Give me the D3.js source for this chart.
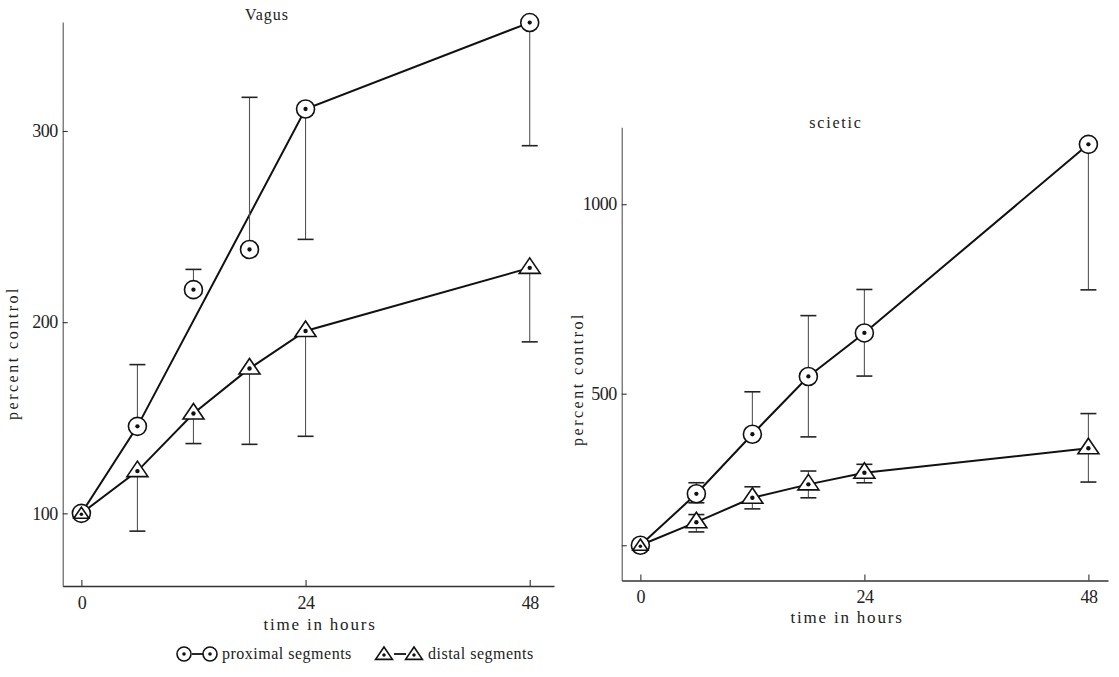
<!DOCTYPE html>
<html><head><meta charset="utf-8">
<script src="https://cdn.jsdelivr.net/npm/d3@7"></script>
<style>
body{margin:0;background:#fff;}
svg{display:block;}
text{font-family:"Liberation Serif","DejaVu Serif",serif;fill:#222;}
</style></head><body>
<svg id="chart" width="1119" height="677"></svg>
<script>
// ---- data ----
const hours = [0, 6, 12, 18, 24, 48];
const xTicks = [0, 24, 48];

const vagusTicks = [100, 200, 300];
const vagusTickLabels = ["100", "200", "300"];
const vagusProximal = [100, 145.5, 217, 238, 311.5, 356.7];
const vagusProximalLinked = [0, 6, 24, 48];
const vagusProximalHi = [null, 177.8, 227.6, 317.6, null, null];
const vagusProximalLo = [null, null, null, null, 243.3, 292.3];
const vagusDistal = [100, 122.1, 152.2, 175.8, 195.4, 228.4];
const vagusDistalHi = [null, null, null, null, null, null];
const vagusDistalLo = [null, 90.7, 136.5, 136.1, 140.3, 189.7];

const scieticTicks = [100, 500, 1000];
const scieticTickLabels = ["", "500", "1000"];
const scieticProximal = [100, 235.8, 393, 545.5, 660.3, 1158];
const scieticProximalLinked = [0, 6, 12, 18, 24, 48];
const scieticProximalHi = [null, 265, 505, 706, 775, null];
const scieticProximalLo = [null, 212, null, 386, 546.5, 774];
const scieticDistal = [100, 160.9, 225.2, 260.7, 291.4, 356];
const scieticDistalHi = [null, 181, 254.3, 295.9, 313.6, 447.5];
const scieticDistalLo = [null, 135.2, 196, 225.2, 264.9, 266.8];

const legendLabels = ["proximal segments", "distal segments"];

// ---- drawing ----
const svg = d3.select("#chart");
const FONT = '"Liberation Serif","DejaVu Serif",serif';

function circleMarker(g, cx, cy, r) {
  g.append("circle").attr("cx", cx).attr("cy", cy).attr("r", r)
    .attr("fill", "#fff").attr("stroke", "#111").attr("stroke-width", 1.6);
  g.append("circle").attr("cx", cx).attr("cy", cy).attr("r", Math.max(r * 0.24, 1.8)).attr("fill", "#111");
}
function triMarker(g, cx, cy, s) {
  const p = d3.path();
  p.moveTo(cx, cy - 10 * s);
  p.lineTo(cx + 10.5 * s, cy + 5.5 * s);
  p.lineTo(cx - 10.5 * s, cy + 5.5 * s);
  p.closePath();
  g.append("path").attr("d", p.toString()).attr("fill", "#fff")
    .attr("stroke", "#111").attr("stroke-width", 1.6).attr("stroke-linejoin", "miter");
  g.append("circle").attr("cx", cx).attr("cy", cy).attr("r", 2.2 * Math.max(s, 0.8)).attr("fill", "#111");
}

function panel(o) {
  const g = svg.append("g");
  const x = o.x, y = o.y;
  // axes
  const ay = d3.axisLeft(y).tickValues(o.yTicks).tickFormat((d, i) => o.yLabels[i])
    .tickSizeInner(-5).tickSizeOuter(0).tickPadding(5);
  const gy = g.append("g").attr("transform", `translate(${x.range()[0]},0)`).call(ay);
  const ax = d3.axisBottom(x).tickValues(xTicks).tickSizeInner(-6).tickSizeOuter(0).tickPadding(10);
  const gx = g.append("g").attr("transform", `translate(0,${y.range()[0]})`).call(ax);
  [gy, gx].forEach(a => {
    a.attr("font-family", FONT).attr("font-size", 18);
    a.selectAll("text").attr("fill", "#222").attr("letter-spacing", -0.5);
    a.selectAll("line").attr("stroke", "#333").attr("stroke-width", 1.1);
  });
  gy.select(".domain").attr("stroke", "#555").attr("stroke-width", 1.1);
  gx.select(".domain").attr("stroke", "#333").attr("stroke-width", 1.4);

  // titles
  g.append("text").attr("x", o.titlePos[0]).attr("y", o.titlePos[1]).attr("text-anchor", "middle")
    .attr("font-size", 16).attr("letter-spacing", o.titleSpacing).text(o.title);
  g.append("text").attr("x", o.xLabelPos[0]).attr("y", o.xLabelPos[1]).attr("text-anchor", "middle")
    .attr("font-size", 17).attr("letter-spacing", 1.8).text("time in hours");
  g.append("text").attr("transform", `translate(${o.yLabelPos[0]},${o.yLabelPos[1]}) rotate(-90)`)
    .attr("text-anchor", "middle").attr("font-size", 16).attr("letter-spacing", 2.5).text("percent control");

  // lines
  const line = d3.line().x(d => x(d[0])).y(d => y(d[1]));
  const proxPts = hours.map((h, i) => [h, o.prox[i]]).filter(d => o.proxLinked.includes(d[0]));
  const distPts = hours.map((h, i) => [h, o.dist[i]]);
  g.append("path").attr("d", line(proxPts)).attr("fill", "none").attr("stroke", "#111").attr("stroke-width", 2);
  g.append("path").attr("d", line(distPts)).attr("fill", "none").attr("stroke", "#111").attr("stroke-width", 2);

  // error bars
  function bars(vals, ends) {
    hours.forEach((h, i) => {
      if (ends[i] == null) return;
      const cx = x(h);
      g.append("line").attr("x1", cx).attr("x2", cx).attr("y1", y(vals[i])).attr("y2", y(ends[i]))
        .attr("stroke", "#555").attr("stroke-width", 1.1);
      g.append("line").attr("x1", cx - 8).attr("x2", cx + 8).attr("y1", y(ends[i])).attr("y2", y(ends[i]))
        .attr("stroke", "#222").attr("stroke-width", 1.6);
    });
  }
  bars(o.prox, o.proxHi); bars(o.prox, o.proxLo);
  bars(o.dist, o.distHi); bars(o.dist, o.distLo);

  // markers
  hours.forEach((h, i) => circleMarker(g, x(h), y(o.prox[i]), 9));
  hours.forEach((h, i) => {
    const same = o.prox[i] === o.dist[i];
    triMarker(g, x(h), y(o.dist[i]) + (same ? 1 : 0), same ? 0.72 : 1);
  });
}

panel({
  x: d3.scaleLinear().domain([-2, 50.6]).range([62.7, 554]),
  y: d3.scaleLinear().domain([62, 357]).range([586, 22]),
  yTicks: vagusTicks, yLabels: vagusTickLabels,
  prox: vagusProximal, proxLinked: vagusProximalLinked, proxHi: vagusProximalHi, proxLo: vagusProximalLo,
  dist: vagusDistal, distHi: vagusDistalHi, distLo: vagusDistalLo,
  title: "Vagus", titlePos: [267, 20], titleSpacing: 1,
  xLabelPos: [320, 630], yLabelPos: [18, 353]
});
panel({
  x: d3.scaleLinear().domain([-2, 50.1]).range([621.7, 1108]),
  y: d3.scaleLinear().domain([7, 1203]).range([580.5, 127.3]),
  yTicks: scieticTicks, yLabels: scieticTickLabels,
  prox: scieticProximal, proxLinked: scieticProximalLinked, proxHi: scieticProximalHi, proxLo: scieticProximalLo,
  dist: scieticDistal, distHi: scieticDistalHi, distLo: scieticDistalLo,
  title: "scietic", titlePos: [836, 128], titleSpacing: 1.8,
  xLabelPos: [847, 623], yLabelPos: [583, 379]
});

// legend
const lg = svg.append("g");
circleMarker(lg, 184, 654, 7);
lg.append("line").attr("x1", 192).attr("x2", 203).attr("y1", 654).attr("y2", 654).attr("stroke", "#111").attr("stroke-width", 1.8);
circleMarker(lg, 210, 654, 7);
lg.append("text").attr("x", 222).attr("y", 659).attr("font-size", 16).attr("letter-spacing", 0.5).text(legendLabels[0]);
triMarker(lg, 384, 655, 0.8);
lg.append("line").attr("x1", 394).attr("x2", 406).attr("y1", 654).attr("y2", 654).attr("stroke", "#111").attr("stroke-width", 1.8);
triMarker(lg, 414, 655, 0.8);
lg.append("text").attr("x", 428).attr("y", 659).attr("font-size", 16).attr("letter-spacing", 0.5).text(legendLabels[1]);
</script>
</body></html>
